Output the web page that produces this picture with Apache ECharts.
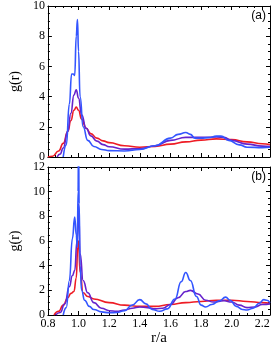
<!DOCTYPE html>
<html><head><meta charset="utf-8">
<script src="https://cdn.jsdelivr.net/npm/echarts@6/dist/echarts.min.js"></script>
<style>html,body{margin:0;padding:0;background:#fff}#c{width:273px;height:347px}</style>
</head><body><div id="c"></div>
<script>
// Panel (a)
const aRedR = [0.8,0.83,0.87,0.9,0.93,0.95,0.97,0.985,1.0,1.02,1.05,1.08,1.12,1.16,1.2,1.3,1.4,1.5,1.6,1.7,1.8,1.9,2.0,2.1,2.2,2.25];
const aRedG = [0,0.05,0.4,0.9,1.7,2.4,3.1,3.3,3.1,2.5,1.9,1.55,1.25,1.07,0.95,0.75,0.65,0.7,0.85,1.0,1.12,1.2,1.15,1.0,0.88,0.82];
const aPurR = [0.86,0.88,0.9,0.93,0.95,0.97,0.985,1.0,1.02,1.05,1.08,1.12,1.16,1.2,1.3,1.4,1.5,1.6,1.7,1.8,1.9,1.95,2.0,2.1,2.2,2.25];
const aPurG = [0,0.2,0.6,1.7,2.9,4.1,4.45,3.9,2.8,1.9,1.4,1.05,0.82,0.68,0.52,0.55,0.75,1.1,1.3,1.3,1.32,1.3,1.1,0.85,0.72,0.7];
const aBluR = [0.9,0.92,0.94,0.955,0.965,0.975,0.985,0.993,1.0,1.01,1.03,1.06,1.1,1.15,1.2,1.3,1.4,1.5,1.6,1.65,1.7,1.73,1.76,1.8,1.85,1.9,1.93,1.98,2.05,2.1,2.2,2.25];
const aBluG = [0,0.8,3.5,5.5,5.5,5.4,8.0,9.1,7,4,2.0,1.1,0.7,0.5,0.42,0.4,0.5,0.75,1.25,1.5,1.62,1.5,1.25,1.25,1.28,1.38,1.38,1.1,0.8,0.65,0.62,0.65];
// Panel (b)
const bRedR = [0.84,0.87,0.9,0.93,0.95,0.97,0.985,0.995,1.0,1.01,1.03,1.06,1.1,1.2,1.3,1.4,1.5,1.6,1.7,1.8,1.9,2.0,2.1,2.2,2.25];
const bRedG = [0,0.3,0.8,1.4,1.75,1.9,3,5.5,6.0,3.5,1.8,1.5,1.3,1.0,0.8,0.7,0.7,0.85,1.0,1.1,1.2,1.2,1.1,1.0,0.95];
const bPurR = [0.85,0.88,0.91,0.94,0.96,0.975,0.99,1.0,1.01,1.03,1.06,1.1,1.15,1.2,1.25,1.3,1.35,1.4,1.45,1.5,1.55,1.6,1.65,1.7,1.73,1.78,1.83,1.88,1.95,2.0,2.05,2.1,2.15,2.2,2.25];
const bPurG = [0,0.2,0.9,2.3,3.2,3.6,6,9,5,2.8,1.8,1.0,0.55,0.35,0.3,0.4,0.55,0.65,0.6,0.5,0.55,0.85,1.4,1.9,2.0,1.7,1.2,1.05,1.15,1.05,0.8,0.6,0.65,0.85,0.9];
const bBluR = [0.9,0.92,0.94,0.96,0.975,0.985,0.992,0.997,1.0,1.004,1.01,1.02,1.04,1.07,1.1,1.15,1.2,1.25,1.3,1.35,1.4,1.44,1.48,1.53,1.58,1.63,1.67,1.7,1.73,1.77,1.8,1.83,1.87,1.92,1.96,1.99,2.03,2.07,2.1,2.14,2.18,2.21,2.23,2.25];
const bBluG = [0,0.6,2.8,6.2,7.95,6.5,5.5,10,14,9,4,2.0,1.2,0.7,0.45,0.25,0.18,0.2,0.35,0.8,1.25,0.9,0.45,0.3,0.5,1.3,2.7,3.45,2.8,1.5,0.8,0.65,0.85,1.15,1.45,1.2,0.7,0.45,0.4,0.55,0.95,1.25,1.2,1.0];

const zip = (r,g) => r.map((v,i)=>[v,g[i]]);
const RED='#ee1c25', PUR='#6622cc', BLU='#3355ff';
const serif = 'Liberation Serif';
const grids = [{left:25,top:5,width:245,height:152},{left:25,top:167,width:245,height:152}];
function xa(gi, pos, labels){
  return {type:'value',gridIndex:gi,position:pos,min:0.8,max:2.25,interval:0.2,
    axisLine:{show:true,onZero:false,lineStyle:{color:'#000',width:1}},
    axisTick:{show:true,inside:true,length:4,lineStyle:{color:'#000'}},
    minorTick:{show:true,splitNumber:4,length:2,lineStyle:{color:'#000'}},
    splitLine:{show:false},
    axisLabel:{show:labels,color:'#000',fontFamily:serif,fontSize:12,margin:3,formatter:v=>v.toFixed(1),showMaxLabel:false},
    name: labels?'r/a':'',nameLocation:'middle',nameGap:16,nameTextStyle:{fontFamily:serif,fontSize:15,color:'#000'}};
}
function ya(gi,pos,max,labels){
  return {type:'value',gridIndex:gi,position:pos,min:0,max:max,interval:2,
    axisLine:{show:true,onZero:false,lineStyle:{color:'#000',width:1}},
    axisTick:{show:true,inside:true,length:4,lineStyle:{color:'#000'}},
    minorTick:{show:true,splitNumber:4,length:2,lineStyle:{color:'#000'}},
    splitLine:{show:false},
    axisLabel:{show:labels,color:'#000',fontFamily:serif,fontSize:12,margin:3},
    name: labels?'g(r)':'',nameLocation:'middle',nameGap:15,nameRotate:90,nameTextStyle:{fontFamily:serif,fontSize:14,color:'#000'}};
}
function ser(data,color,xi,yi,z){
  return {type:'line',data:data,xAxisIndex:xi,yAxisIndex:yi,showSymbol:false,smooth:0.5,smoothMonotone:'x',
    lineStyle:{color:color,width:1.6},z:z,clip:true,animation:false};
}
const chart = echarts.init(document.getElementById('c'),null,{renderer:'canvas'});
chart.setOption({
  animation:false,
  grid:grids,
  xAxis:[xa(0,'bottom',false),xa(0,'top',false),xa(1,'bottom',true),xa(1,'top',false)],
  yAxis:[ya(0,'left',10,true),ya(0,'right',10,false),ya(1,'left',12,true),ya(1,'right',12,false)],
  series:[
    ser(zip(aRedR,aRedG),RED,0,0,3), ser(zip(aPurR,aPurG),PUR,0,0,4), ser(zip(aBluR,aBluG),BLU,0,0,5),
    ser(zip(bRedR,bRedG),RED,2,2,3), ser(zip(bPurR,bPurG),PUR,2,2,4), ser(zip(bBluR,bBluG),BLU,2,2,5)
  ],
  graphic:[
    {type:'text',right:7,top:10,style:{text:'(a)',font:'12px "Liberation Sans"',fill:'#000'}},
    {type:'text',right:7,top:171,style:{text:'(b)',font:'12px "Liberation Sans"',fill:'#000'}}
  ]
});
</script></body></html>
